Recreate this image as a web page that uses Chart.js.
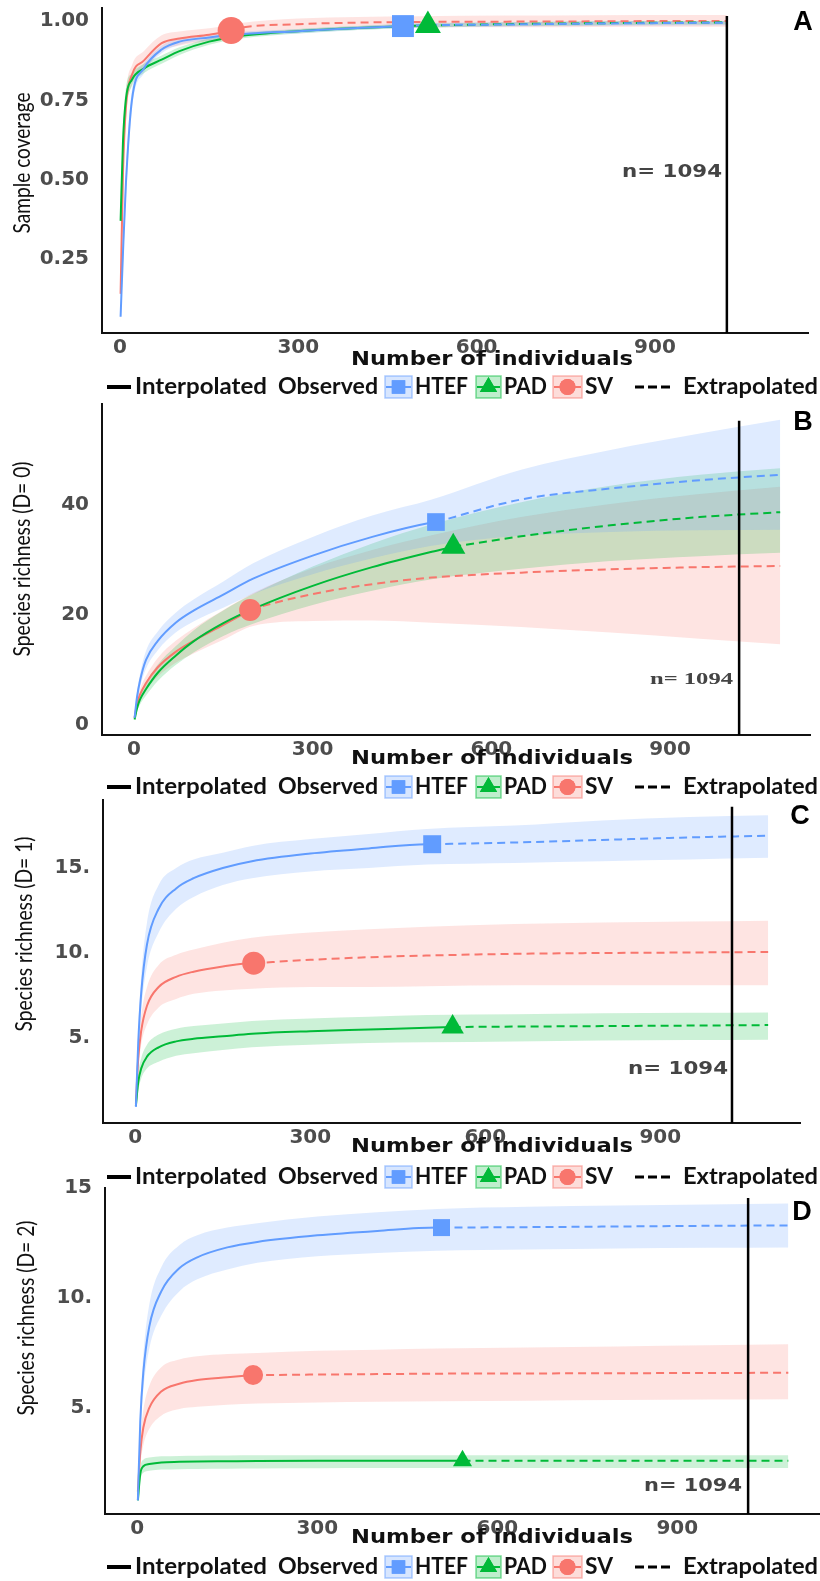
<!DOCTYPE html>
<html>
<head>
<meta charset="utf-8">
<title>Curvas de rarefação / extrapolação</title>
<script src="https://cdn.jsdelivr.net/npm/chart.js@4.4.1/dist/chart.umd.min.js"></script>
<style>
    html, body { margin: 0; padding: 0; background: #fff; }
    body { position: relative; width: 820px; height: 1581px; overflow: hidden; }
    canvas { position: absolute; left: 0; }
</style>
</head>
<body>
<canvas id="panelA" width="820" height="400"></canvas>
<canvas id="panelB" width="820" height="408"></canvas>
<canvas id="panelC" width="820" height="400"></canvas>
<canvas id="panelD" width="820" height="405"></canvas>
<script>
// Sites e estilos
const siteNames = ['HTEF', 'PAD', 'SV'];
const siteColors = ['#619CFF', '#00BA38', '#F8766D'];
const siteMarkers = ['rect', 'triangle', 'circle'];

const xTicks = [0, 300, 600, 900];
const xTickLabels = ['0', '300', '600', '900'];
const nLabel = 'n= 1094';
const refLine = [1021, 1016, 1023, 1018];

// A - cobertura da amostra
const covGrid = [1, 5, 10, 20, 40, 70, 100, 150, 200, 300, 400, 500, 650, 800, 950, 1021];
const covHTEF    = [0.068, 0.27, 0.49, 0.75, 0.85, 0.91, 0.935, 0.948, 0.958, 0.968, 0.978, 0.986, 0.989, 0.992, 0.994, 0.995];
const covHTEF_lo = [0.05, 0.22, 0.44, 0.72, 0.835, 0.898, 0.925, 0.939, 0.95, 0.961, 0.972, 0.979, 0.982, 0.984, 0.986, 0.987];
const covHTEF_hi = [0.09, 0.32, 0.54, 0.78, 0.865, 0.922, 0.945, 0.957, 0.966, 0.975, 0.984, 0.993, 0.996, 0.999, 1.0, 1.0];
const covPAD     = [0.37, 0.62, 0.755, 0.815, 0.85, 0.878, 0.905, 0.935, 0.952, 0.968, 0.978, 0.985, 0.99, 0.993, 0.995, 0.996];
const covPAD_lo  = [0.33, 0.58, 0.72, 0.795, 0.835, 0.865, 0.893, 0.925, 0.944, 0.961, 0.972, 0.979, 0.984, 0.987, 0.989, 0.99];
const covPAD_hi  = [0.41, 0.66, 0.79, 0.835, 0.865, 0.891, 0.917, 0.945, 0.96, 0.975, 0.984, 0.991, 0.996, 0.999, 1.0, 1.0];
const covSV      = [0.14, 0.52, 0.73, 0.83, 0.875, 0.93, 0.945, 0.957, 0.978, 0.99, 0.995, 0.997, 0.998, 0.999, 1.0, 1.0];
const covSV_lo   = [0.1, 0.47, 0.69, 0.8, 0.845, 0.905, 0.923, 0.937, 0.955, 0.97, 0.977, 0.979, 0.98, 0.981, 0.982, 0.982];
const covSV_hi   = [0.18, 0.57, 0.77, 0.86, 0.905, 0.955, 0.967, 0.977, 0.993, 1.008, 1.013, 1.015, 1.017, 1.018, 1.019, 1.019];
const covObsN = [476, 518, 187];
const covObs  = [0.984, 0.986, 0.97];
const covTicks = [0.25, 0.5, 0.75, 1.0];
const covTickLabels = ['0.25', '0.50', '0.75', '1.00'];

// B - riqueza (D= 0)
const qGrid = [1, 5, 10, 20, 40, 70, 100, 150, 200, 300, 400, 500, 650, 800, 950, 1085];
const q0HTEF    = [1.3, 5.0, 8.0, 11.8, 15.3, 18.6, 20.8, 23.7, 26.6, 30.8, 34.2, 36.8, 41.0, 43.0, 44.5, 45.5];
const q0HTEF_lo = [1.1, 4.0, 6.8, 10.2, 13.6, 16.8, 18.8, 21.3, 23.8, 27.4, 30.3, 32.6, 34.4, 35.1, 35.4, 35.5];
const q0HTEF_hi = [1.5, 6.0, 9.2, 13.4, 17.0, 20.4, 22.8, 26.1, 29.4, 34.2, 38.1, 41.0, 46.4, 50.0, 53.0, 55.5];
const q0PAD     = [1.0, 3.0, 4.6, 6.5, 9.5, 12.6, 15.2, 18.5, 21.1, 25.3, 28.7, 31.5, 34.3, 36.3, 37.8, 38.7];
const q0PAD_lo  = [0.8, 2.4, 3.7, 5.3, 8.0, 10.9, 13.2, 16.2, 18.4, 21.8, 24.4, 26.5, 28.4, 29.8, 30.7, 31.3];
const q0PAD_hi  = [1.2, 3.6, 5.5, 7.7, 11.0, 14.3, 17.2, 20.8, 23.8, 28.8, 33.0, 36.5, 40.5, 43.5, 45.5, 46.7];
const q0SV      = [1.3, 3.8, 5.5, 7.6, 10.5, 13.3, 15.3, 18.2, 21.1, 23.8, 25.6, 26.8, 27.7, 28.3, 28.7, 28.9];
const q0SV_lo   = [1.0, 3.0, 4.5, 6.3, 8.8, 11.3, 13.0, 15.5, 18.0, 18.9, 19.0, 18.6, 17.8, 16.8, 15.7, 14.7];
const q0SV_hi   = [1.6, 4.6, 6.5, 8.9, 12.2, 15.3, 17.6, 20.9, 24.0, 28.5, 31.8, 34.5, 37.8, 40.2, 42.0, 43.3];
const q0ObsN = [507, 536, 195];
const q0Obs  = [36.9, 32.4, 20.9];
const q0Ticks = [0, 20, 40];
const q0TickLabels = ['0', '20', '40'];

// C - riqueza (D= 1)
const q1HTEF    = [0.95, 4.7, 7.6, 10.5, 12.6, 13.8, 14.4, 15.0, 15.4, 15.85, 16.15, 16.4, 16.5, 16.65, 16.8, 16.9];
const q1HTEF_lo = [0.8, 4.0, 6.6, 9.2, 11.2, 12.6, 13.3, 14.0, 14.4, 14.8, 15.0, 15.2, 15.3, 15.4, 15.5, 15.6];
const q1HTEF_hi = [1.1, 5.4, 8.6, 11.8, 14.0, 15.0, 15.5, 15.9, 16.3, 16.7, 17.0, 17.3, 17.5, 17.8, 18.0, 18.1];
const q1PAD     = [1.0, 2.4, 3.2, 3.9, 4.45, 4.8, 4.95, 5.1, 5.25, 5.4, 5.5, 5.6, 5.67, 5.7, 5.73, 5.76];
const q1PAD_lo  = [0.9, 1.9, 2.6, 3.2, 3.6, 3.95, 4.1, 4.3, 4.45, 4.6, 4.7, 4.75, 4.8, 4.85, 4.88, 4.9];
const q1PAD_hi  = [1.1, 2.9, 3.8, 4.6, 5.2, 5.55, 5.7, 5.85, 6.0, 6.15, 6.25, 6.35, 6.4, 6.45, 6.48, 6.5];
const q1SV      = [1.1, 3.8, 5.4, 6.9, 8.0, 8.6, 8.9, 9.2, 9.4, 9.6, 9.75, 9.85, 9.95, 10.0, 10.03, 10.06];
const q1SV_lo   = [0.9, 3.1, 4.6, 5.8, 6.8, 7.3, 7.6, 7.8, 7.9, 8.0, 8.0, 8.05, 8.1, 8.1, 8.1, 8.1];
const q1SV_hi   = [1.3, 4.5, 6.3, 8.0, 9.3, 9.9, 10.2, 10.6, 10.9, 11.2, 11.4, 11.55, 11.7, 11.8, 11.85, 11.9];
const q1ObsN = [509, 544, 203];
const q1Obs  = [16.4, 5.65, 9.4];
const q1Ticks = [5, 10, 15];
const q1TickLabels = ['5.', '10.', '15.'];

// D - riqueza (D= 2)
const q2HTEF    = [0.8, 4.4, 6.6, 8.7, 10.3, 11.35, 11.85, 12.3, 12.55, 12.85, 13.05, 13.2, 13.22, 13.25, 13.28, 13.3];
const q2HTEF_lo = [0.7, 3.8, 5.8, 7.7, 9.2, 10.3, 10.85, 11.3, 11.6, 11.9, 12.05, 12.15, 12.2, 12.25, 12.28, 12.3];
const q2HTEF_hi = [0.9, 5.0, 7.4, 9.7, 11.4, 12.4, 12.85, 13.2, 13.4, 13.7, 13.9, 14.05, 14.15, 14.2, 14.25, 14.3];
const q2PAD     = [0.8, 2.0, 2.35, 2.45, 2.52, 2.55, 2.57, 2.58, 2.59, 2.6, 2.6, 2.6, 2.6, 2.6, 2.6, 2.6];
const q2PAD_lo  = [0.7, 1.7, 2.05, 2.15, 2.2, 2.22, 2.23, 2.24, 2.25, 2.26, 2.27, 2.27, 2.27, 2.27, 2.27, 2.27];
const q2PAD_hi  = [0.9, 2.3, 2.65, 2.75, 2.8, 2.82, 2.83, 2.84, 2.85, 2.85, 2.85, 2.85, 2.85, 2.85, 2.85, 2.85];
const q2SV      = [1.2, 3.0, 4.1, 5.0, 5.75, 6.1, 6.27, 6.4, 6.5, 6.52, 6.54, 6.56, 6.57, 6.58, 6.59, 6.6];
const q2SV_lo   = [1.0, 2.4, 3.3, 4.05, 4.65, 4.95, 5.05, 5.15, 5.2, 5.25, 5.28, 5.3, 5.33, 5.36, 5.38, 5.4];
const q2SV_hi   = [1.4, 3.6, 4.9, 6.0, 6.85, 7.2, 7.35, 7.45, 7.5, 7.6, 7.65, 7.7, 7.75, 7.8, 7.85, 7.9];
const q2ObsN = [507, 542, 193];
const q2Obs  = [13.2, 2.6, 6.5];
const q2Ticks = [5, 10, 15];
const q2TickLabels = ['5.', '10.', '15'];

// Configuração dos painéis (posições na página)
const panels = [
    { canvas: 'panelA', letter: 'A', top: 0, height: 400, area: [102, 8, 808, 333],
      xRange: [-30.3, 1157.5], yRange: [0.0167, 1.041], grid: covGrid,
      series: [[covHTEF, covHTEF_lo, covHTEF_hi], [covPAD, covPAD_lo, covPAD_hi], [covSV, covSV_lo, covSV_hi]],
      obsN: covObsN, obs: covObs, yTicks: covTicks, yLabels: covTickLabels,
      yTitle: 'Sample coverage', yTitlePos: [23, 163, 141], xTitleY: 360, legendY: 387,
      letterPos: [803, 23], nPos: [722, 173, 100, 'sans'], ref: refLine[0], refTop: 1.016,
      markerR: [15.5, 15, 13.5] },
    { canvas: 'panelB', letter: 'B', top: 392, height: 408, area: [102, 404, 810, 735],
      xRange: [-53.7, 1135], yRange: [-1.82, 58.36], grid: qGrid,
      series: [[q0HTEF, q0HTEF_lo, q0HTEF_hi], [q0PAD, q0PAD_lo, q0PAD_hi], [q0SV, q0SV_lo, q0SV_hi]],
      obsN: q0ObsN, obs: q0Obs, yTicks: q0Ticks, yLabels: q0TickLabels,
      yTitle: 'Species richness (D= 0)', yTitlePos: [23, 559, 195], xTitleY: 759, legendY: 787,
      letterPos: [803, 423], nPos: [733, 680, 83, 'serif'], ref: refLine[1], refTop: 55.3,
      markerR: [12.5, 14, 11] },
    { canvas: 'panelC', letter: 'C', top: 790, height: 400, area: [103, 800, 800, 1123],
      xRange: [-55.4, 1139.6], yRange: [0, 19.0], grid: qGrid,
      series: [[q1HTEF, q1HTEF_lo, q1HTEF_hi], [q1PAD, q1PAD_lo, q1PAD_hi], [q1SV, q1SV_lo, q1SV_hi]],
      obsN: q1ObsN, obs: q1Obs, yTicks: q1Ticks, yLabels: q1TickLabels,
      yTitle: 'Species richness (D= 1)', yTitlePos: [25, 934, 195], xTitleY: 1147, legendY: 1177,
      letterPos: [800, 817], nPos: [728, 1070, 100, 'sans'], ref: refLine[2], refTop: 18.6,
      markerR: [12.7, 13, 11.5] },
    { canvas: 'panelD', letter: 'D', top: 1176, height: 405, area: [105, 1188, 820, 1514],
      xRange: [-53.8, 1137.8], yRange: [0.18, 15.0], grid: qGrid,
      series: [[q2HTEF, q2HTEF_lo, q2HTEF_hi], [q2PAD, q2PAD_lo, q2PAD_hi], [q2SV, q2SV_lo, q2SV_hi]],
      obsN: q2ObsN, obs: q2Obs, yTicks: q2Ticks, yLabels: q2TickLabels,
      yTitle: 'Species richness (D= 2)', yTitlePos: [27, 1318, 195], xTitleY: 1538, legendY: 1567,
      letterPos: [802, 1213], nPos: [742, 1487, 98, 'sans'], ref: refLine[3], refTop: 14.55,
      markerR: [12, 11, 10] }
];

function rgba(hex, a) {
    const n = parseInt(hex.slice(1), 16);
    return `rgba(${n >> 16}, ${(n >> 8) & 255}, ${n & 255}, ${a})`;
}

// Escreve um texto esticado/comprimido até a largura pedida
function fitText(ctx, text, cx, cy, width, font, color, rotate) {
    ctx.save();
    ctx.font = font;
    ctx.fillStyle = color;
    ctx.textAlign = 'center';
    ctx.textBaseline = 'middle';
    const s = width / ctx.measureText(text).width;
    ctx.translate(cx, cy);
    if (rotate) ctx.rotate(-Math.PI / 2);
    ctx.scale(s, 1);
    ctx.fillText(text, 0, 0);
    ctx.restore();
}

// Monta os datasets: faixa de confiança, linha interpolada, linha extrapolada e ponto observado
function buildDatasets(p) {
    const datasets = [];
    p.series.forEach((s, i) => {
        const color = siteColors[i];
        const toPoints = arr => p.grid.map((x, k) => ({ x: x, y: arr[k] }));
        const mid = toPoints(s[0]);
        const obs = { x: p.obsN[i], y: p.obs[i] };

        datasets.push({ label: siteNames[i] + ' lo', data: toPoints(s[1]), borderWidth: 0,
            pointRadius: 0, fill: false, order: 3 });
        datasets.push({ label: siteNames[i] + ' hi', data: toPoints(s[2]), borderWidth: 0,
            pointRadius: 0, fill: '-1', backgroundColor: rgba(color, 0.2), order: 3 });

        const interp = mid.filter(pt => pt.x < obs.x).concat([obs]);
        const extrap = [obs].concat(mid.filter(pt => pt.x > obs.x));
        datasets.push({ label: siteNames[i] + ' interpolated', data: interp, borderColor: color,
            borderWidth: 2, pointRadius: 0, fill: false, order: 2 });
        datasets.push({ label: siteNames[i] + ' extrapolated', data: extrap, borderColor: color,
            borderWidth: 2, borderDash: [8, 5], pointRadius: 0, fill: false, order: 2 });

        datasets.push({ label: siteNames[i] + ' observed', data: [obs], showLine: false,
            pointStyle: siteMarkers[i], pointRadius: p.markerR[i], pointBackgroundColor: color,
            pointBorderWidth: 0, clip: false, order: 1 });
    });
    return datasets;
}

// Legenda (mesma disposição em todos os painéis)
function drawLegend(ctx, y) {
    ctx.save();
    ctx.strokeStyle = '#000';
    ctx.lineWidth = 4;
    ctx.beginPath(); ctx.moveTo(107, y); ctx.lineTo(131, y); ctx.stroke();
    ctx.lineWidth = 3;
    ctx.setLineDash([9, 4]);
    ctx.beginPath(); ctx.moveTo(635, y); ctx.lineTo(672, y); ctx.stroke();
    ctx.setLineDash([]);

    const boxes = [[385, 412], [476, 501], [553, 582]];
    boxes.forEach((b, i) => {
        const color = siteColors[i];
        ctx.fillStyle = rgba(color, 0.25);
        ctx.strokeStyle = rgba(color, 0.5);
        ctx.lineWidth = 1.5;
        ctx.fillRect(b[0], y - 11, b[1] - b[0], 22);
        ctx.strokeRect(b[0], y - 11, b[1] - b[0], 22);
        ctx.strokeStyle = color;
        ctx.lineWidth = 2;
        ctx.beginPath(); ctx.moveTo(b[0] + 1, y); ctx.lineTo(b[1] - 1, y); ctx.stroke();
        ctx.fillStyle = color;
        const r = [9.5, 10, 8][i];
        Chart.helpers.drawPoint(ctx, { pointStyle: siteMarkers[i], radius: r, rotation: 0, borderWidth: 0 },
            (b[0] + b[1]) / 2, y);
        ctx.fill();
    });
    ctx.restore();

    const font = 'bold 23px Lato';
    const labels = [['Interpolated', 135, 267], ['Observed', 278, 378], ['HTEF', 415, 468],
        ['PAD', 504, 547], ['SV', 585, 613], ['Extrapolated', 683, 818]];
    labels.forEach(l => fitText(ctx, l[0], (l[1] + l[2]) / 2, y, l[2] - l[1], font, '#111'));
}

function decorPlugin(p) {
    return {
        id: 'decor' + p.letter,
        afterDatasetsDraw(chart) {
            const { ctx, scales, chartArea } = chart;
            const px = scales.x.getPixelForValue(p.ref);
            ctx.save();
            ctx.strokeStyle = '#000';
            ctx.lineWidth = 2.5;
            ctx.beginPath();
            ctx.moveTo(px, scales.y.getPixelForValue(p.refTop));
            ctx.lineTo(px, chartArea.bottom);
            ctx.stroke();
            ctx.restore();
        },
        afterDraw(chart) {
            const ctx = chart.ctx;
            const off = p.top;
            fitText(ctx, p.yTitle, p.yTitlePos[0], p.yTitlePos[1] - off, p.yTitlePos[2], '23px Lato', '#111', true);
            fitText(ctx, 'Number of individuals', 492, p.xTitleY - off, 282, 'bold 19px "DejaVu Sans"', '#111');
            drawLegend(ctx, p.legendY - off);

            ctx.save();
            ctx.font = 'bold 27px "Liberation Sans"';
            ctx.fillStyle = '#000';
            ctx.textAlign = 'center';
            ctx.textBaseline = 'middle';
            ctx.fillText(p.letter, p.letterPos[0], p.letterPos[1] - off);
            ctx.restore();

            const [right, ny, w, fam] = p.nPos;
            const nFont = fam === 'serif' ? 'bold 17px "Liberation Serif"' : 'bold 17px "DejaVu Sans"';
            fitText(ctx, nLabel, right - w / 2, ny - off, w, nFont, '#444');
        }
    };
}

const tickFont = { family: 'DejaVu Sans', size: 20, weight: 'bold' };

panels.forEach(p => {
    const canvas = document.getElementById(p.canvas);
    canvas.style.top = p.top + 'px';
    canvas.style.width = '820px';
    canvas.style.height = p.height + 'px';
    const [aL, aT, aR, aB] = p.area;

    new Chart(canvas, {
        type: 'line',
        data: { datasets: buildDatasets(p) },
        options: {
            responsive: false,
            animation: false,
            devicePixelRatio: 1,
            layout: {
                autoPadding: false,
                padding: { left: 0, top: aT - p.top, right: 820 - aR, bottom: p.height - (aB - p.top) - 30 }
            },
            elements: { line: { cubicInterpolationMode: 'monotone' } },
            plugins: { legend: { display: false }, tooltip: { enabled: false } },
            scales: {
                x: {
                    type: 'linear',
                    min: p.xRange[0],
                    max: p.xRange[1],
                    grid: { display: false },
                    border: { display: true, color: '#111', width: 2 },
                    ticks: {
                        padding: -5, color: '#4d4d4d', font: tickFont, maxRotation: 0,
                        callback: v => xTickLabels[xTicks.indexOf(v)]
                    },
                    afterBuildTicks: s => { s.ticks = xTicks.map(v => ({ value: v })); },
                    afterFit: s => { s.height = 30; s.paddingLeft = 0; s.paddingRight = 0; }
                },
                y: {
                    type: 'linear',
                    min: p.yRange[0],
                    max: p.yRange[1],
                    grid: { display: false },
                    border: { display: true, color: '#111', width: 2 },
                    ticks: {
                        padding: 5, color: '#4d4d4d', font: tickFont,
                        callback: v => p.yLabels[p.yTicks.indexOf(v)]
                    },
                    afterBuildTicks: s => { s.ticks = p.yTicks.map(v => ({ value: v })); },
                    afterFit: s => { s.width = aL; s.paddingTop = 0; s.paddingBottom = 0; }
                }
            }
        },
        plugins: [decorPlugin(p)]
    });
});
</script>
</body>
</html>
